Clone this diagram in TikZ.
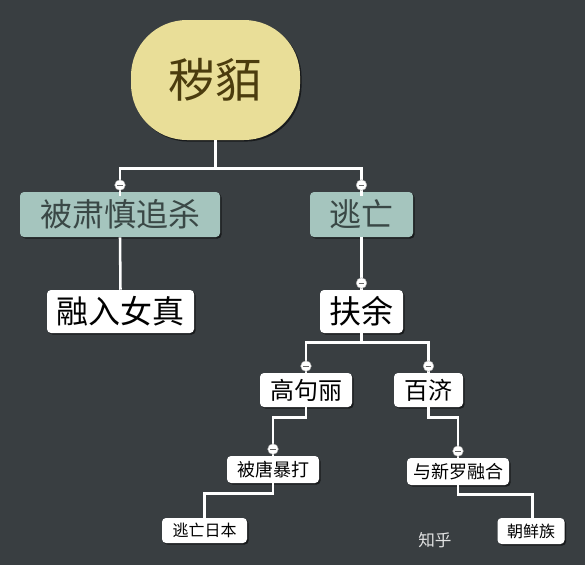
\documentclass[tikz,border=0pt]{standalone}
\usepackage{fontspec}
\setmainfont{Noto Sans CJK SC}
\usetikzlibrary{shadows}
\definecolor{bgc}{HTML}{393E41}
\definecolor{rootfill}{HTML}{E9DE98}
\definecolor{roottext}{HTML}{4B3C0E}
\definecolor{tealfill}{HTML}{A5C5BE}
\definecolor{tealtext}{HTML}{3A4846}
\tikzset{
  shad/.style={drop shadow={shadow xshift=1.2pt, shadow yshift=-1.2pt, fill=black, opacity=0.55}},
  rootbox/.style={shad, fill=rootfill, text=roottext, rounded corners=42pt, inner sep=0pt, font=\fontsize{35}{40}\selectfont},
  tealbox/.style={shad, fill=tealfill, text=tealtext, rounded corners=3pt, inner sep=0pt, font=\fontsize{24}{28}\selectfont},
  whitebox/.style={shad, fill=white, text=black, rounded corners=3pt, inner sep=0pt},
  link/.style={draw=white, line width=1.9pt},
  knob/.style={circle, fill=white, draw=gray!70, line width=0.3pt, minimum size=8pt, inner sep=0pt,
    path picture={\draw[gray!80!black, line width=0.6pt] ([xshift=-2.2pt]path picture bounding box.center) -- ([xshift=2.2pt]path picture bounding box.center);}},
}
\begin{document}
\begin{tikzpicture}[x=0.75pt,y=-0.75pt]
\fill[bgc] (0,0) rectangle (585,565);
\useasboundingbox (0,0) rectangle (585,565);

% nodes
\node[rootbox, minimum width=126.75pt, minimum height=90pt] (root) at (215.5,80) {秽貊};
\node[tealbox, minimum width=150pt, minimum height=33.75pt] (A) at (120,214.5) {被肃慎追杀};
\node[tealbox, minimum width=77.25pt, minimum height=33.75pt] (B) at (361.5,214.5) {逃亡};
\node[whitebox, minimum width=110.25pt, minimum height=32.25pt, font=\fontsize{24}{28}\selectfont] (C) at (120.5,311.5) {融入女真};
\node[whitebox, minimum width=62.25pt, minimum height=32.25pt, font=\fontsize{24}{28}\selectfont] (D) at (361.5,311.5) {扶余};
\node[whitebox, minimum width=69pt, minimum height=25.5pt, font=\fontsize{18}{21}\selectfont] (E) at (306,390) {高句丽};
\node[whitebox, minimum width=51.75pt, minimum height=25.5pt, font=\fontsize{18}{21}\selectfont] (F) at (428.5,390) {百济};
\node[whitebox, minimum width=69pt, minimum height=20.25pt, font=\fontsize{13.5}{16}\selectfont] (G) at (273,469.5) {被唐暴打};
\node[whitebox, minimum width=76.5pt, minimum height=20.25pt, font=\fontsize{13.5}{16}\selectfont] (H) at (458,471.5) {与新罗融合};
\node[whitebox, minimum width=63.75pt, minimum height=18.75pt, font=\fontsize{12}{14}\selectfont] (I) at (204.5,530.5) {逃亡日本};
\node[whitebox, minimum width=50.25pt, minimum height=19.5pt, font=\fontsize{12}{14}\selectfont] (J) at (531,531) {朝鲜族};

% connectors
\draw[link] (root.south) -- ++(0,28) -| ([yshift=-3pt]A.north);
\draw[link] (root.south) -- ++(0,28) -| ([yshift=-3pt]B.north);
\draw[link] (A.south) -- (C.north);
\draw[link] (B.south) -- (D.north);
\draw[link] (D.south) -- ++(0,9) -| ([yshift=-3pt]E.north);
\draw[link] (D.south) -- ++(0,9) -| ([yshift=-3pt]F.north);
\draw[link] (E.south) -- ++(0,10) -| ([yshift=-3pt]G.north);
\draw[link] (F.south) -- ++(0,10) -| ([yshift=-3pt]H.north);
\draw[link] (G.south) -- ++(0,10) -| (I.north);
\draw[link] (H.south) -- ++(0,9) -| ([xshift=1pt]J.north);

% collapse knobs
\node[knob] (kA) at ([yshift=5pt]A.north) {};
\node[knob] (kB) at ([yshift=5pt]B.north) {};
\node[knob] (kD) at ([yshift=5pt]D.north) {};
\node[knob] (kE) at ([yshift=5pt]E.north) {};
\node[knob] (kF) at ([yshift=5pt]F.north) {};
\node[knob] (kG) at ([yshift=5pt]G.north) {};
\node[knob] (kH) at ([yshift=5pt]H.north) {};

% watermark
\node[text=white, opacity=0.85, font=\fontsize{12.5}{15}\selectfont, anchor=west, inner sep=0pt] (wm) at (418,540) {知乎};
\end{tikzpicture}
\end{document}
